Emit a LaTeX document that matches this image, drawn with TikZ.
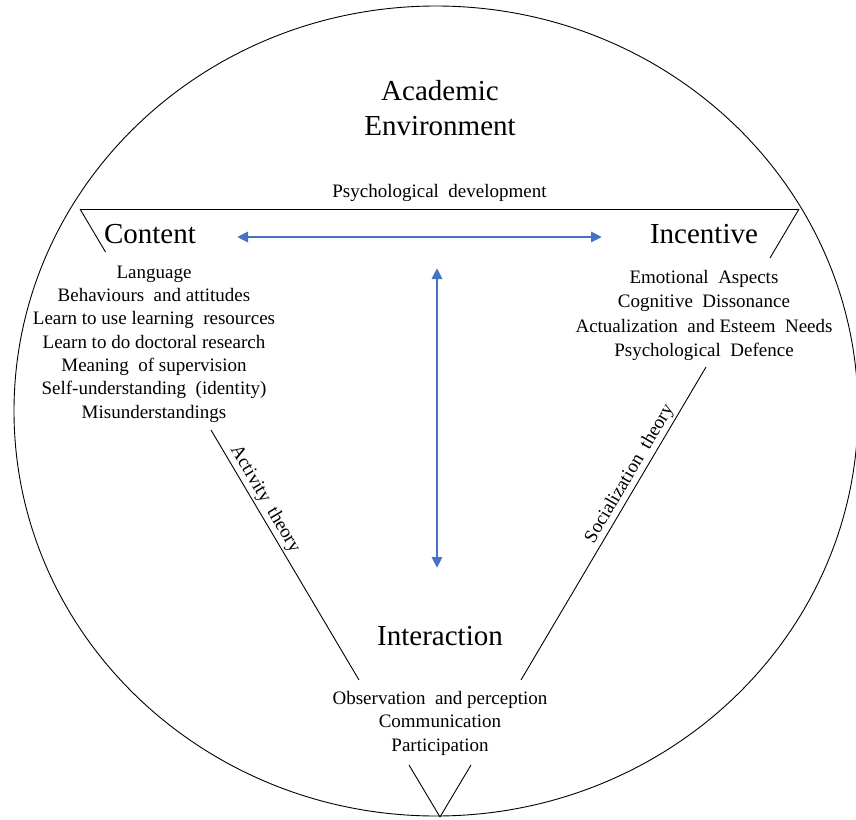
\documentclass[tikz,border=0pt]{standalone}
\usepackage{fontspec}
\setmainfont{Liberation Serif}
\usetikzlibrary{arrows.meta}
\definecolor{arrowblue}{RGB}{68,114,196}

\tikzset{
  big/.style={font=\fontsize{29}{35}\selectfont, align=center, inner sep=0pt},
  small/.style={font=\fontsize{19}{23.3}\selectfont, align=center, inner sep=0pt},
  rim/.style={line width=0.9pt},
  link/.style={draw=arrowblue, line width=2.8pt,
    {Triangle[length=11pt,width=10pt]}-{Triangle[length=11pt,width=10pt]}}
}

\begin{document}
\begin{tikzpicture}[x=1pt,y=-1pt]
\useasboundingbox (0,0) rectangle (856,819);

% outer ring
\draw[rim] (436,411) ellipse [x radius=422, y radius=405];

% base of a stacked node = base of its last line
\node[big, anchor=base](E) at (440,135) {Academic\\Environment};

% the inverted triangle, drawn in pieces
\coordinate (TL) at (80,209);
\coordinate (TR) at (799,209);
\coordinate (L1) at (105.5,252);
\coordinate (R1) at (770,258);
\coordinate (L2) at (211,430);
\coordinate (L3) at (359,680);
\coordinate (R2) at (706,367);
\coordinate (R3) at (521,680);
\coordinate (V1) at (409,765);
\coordinate (V2) at (471,765);
\coordinate (V0) at (440,817);

\path[rim] (TL) edge node[small, above=7pt] {Psychological\ \ development} (TR);
\path[rim] (TL) edge (L1);
\path[rim] (TR) edge (R1);
\path[rim] (L2) edge node[small, sloped, above=2pt, pos=0.3] {Activity\ \ theory} (L3);
\path[rim] (R3) edge node[small, sloped, above=2pt, pos=0.64] {Socialization\ \ theory} (R2);
\path[rim] (V1) edge (V0);
\path[rim] (V2) edge (V0);

% corners
\node[big, anchor=base](C) at (150,243) {Content};
\node[big, anchor=base](I) at (704,243) {Incentive};
\node[big, anchor=base](N) at (440,645) {Interaction};

\node[small, anchor=base](CL) at (154,418) {Language\\Behaviours\ \ and attitudes\\Learn to use learning\ \ resources\\Learn to do doctoral\ research\\Meaning\ \ of supervision\\Self-understanding\ \ (identity)\\Misunderstandings};
\node[small, anchor=base, font=\fontsize{19}{24.5}\selectfont](IL) at (704,356.5) {Emotional\ \ Aspects\\Cognitive\ \ Dissonance\\Actualization\ \ and Esteem\ \ Needs\\Psychological\ \ Defence};
\node[small, anchor=base](NL) at (440,751) {Observation\ \ and perception\\Communication\\Participation};

% links between the corners
\coordinate (h1) at (237,237);
\coordinate (h2) at (602,237);
\coordinate (v1) at (437,268);
\coordinate (v2) at (437,568);
\draw[link] (h1) -- (h2);
\draw[link] (v1) -- (v2);
\end{tikzpicture}
\end{document}
